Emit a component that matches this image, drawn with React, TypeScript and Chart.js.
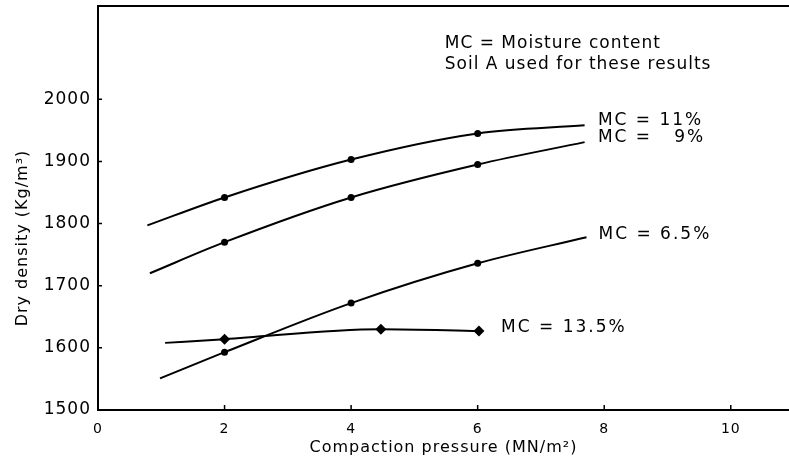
import React, { useEffect, useRef } from 'react';
import { Chart, registerables } from 'chart.js';

Chart.register(...registerables);

const FONT = "'DejaVu Sans', sans-serif";

// Axis ticks
const xTicks = [0, 2, 4, 6, 8, 10];
const yTicks = [1500, 1600, 1700, 1800, 1900, 2000];

// Curves (x = compaction pressure MN/m², y = dry density kg/m³)
const mc11X = [0.78, 2, 4, 6, 7.69];
const mc11Y = [1797, 1842, 1903, 1945, 1958];
const mc11Marked = [2, 4, 6];

const mc9X = [0.82, 2, 4, 6, 7.69];
const mc9Y = [1720, 1770, 1842, 1895, 1931];
const mc9Marked = [2, 4, 6];

const mc65X = [0.98, 2, 4, 6, 7.72];
const mc65Y = [1551, 1593, 1672, 1736, 1778];
const mc65Marked = [2, 4, 6];

const mc135X = [1.06, 2, 4.47, 6.02];
const mc135Y = [1608, 1614, 1630, 1627];
const mc135Marked = [2, 4.47, 6.02];

// Curve labels (anchored in data coordinates)
const seriesLabels = ['MC = 11%', 'MC =   9%', 'MC = 6.5%', 'MC = 13.5%'];
const labelX = [7.9, 7.9, 7.91, 6.37];
const labelY = [1966, 1939, 1782, 1632];

// Note
const noteLines = ['MC = Moisture content', 'Soil A used for these results'];
const noteX = 5.48;
const noteY = [2090, 2056];

const xTitle = 'Compaction pressure (MN/m²)';
const yTitle = 'Dry density (Kg/m³)';

function pts(xs: number[], ys: number[]) {
  return xs.map((x, i) => ({ x, y: ys[i] }));
}

function makeSet(xs: number[], ys: number[], marked: number[], style: string, r: number) {
  return {
    data: pts(xs, ys),
    borderColor: '#000',
    backgroundColor: '#000',
    borderWidth: 2,
    cubicInterpolationMode: 'monotone' as const,
    pointStyle: style,
    pointRadius: (c: any) => (marked.includes(xs[c.dataIndex]) ? r : 0),
    pointHoverRadius: (c: any) => (marked.includes(xs[c.dataIndex]) ? r : 0),
    pointBorderWidth: 0,
  };
}

const overlay = {
  id: 'overlay',
  beforeDraw(chart: any) {
    chart.ctx.letterSpacing = '1px';
  },
  afterDraw(chart: any) {
    const { ctx, chartArea, scales } = chart;
    const { left, right, top, bottom } = chartArea;
    const x = scales.x;
    const y = scales.y;
    ctx.save();
    ctx.strokeStyle = '#000';
    ctx.lineWidth = 2;
    ctx.beginPath();
    ctx.moveTo(left, top);
    ctx.lineTo(right, top);
    ctx.stroke();

    ctx.lineWidth = 1.5;
    ctx.beginPath();
    yTicks.forEach((v) => {
      const py = y.getPixelForValue(v);
      ctx.moveTo(left, py);
      ctx.lineTo(left + 4, py);
    });
    xTicks.forEach((v) => {
      const px = x.getPixelForValue(v);
      ctx.moveTo(px, bottom);
      ctx.lineTo(px, bottom - 5);
    });
    ctx.stroke();

    ctx.fillStyle = '#000';
    // y title
    ctx.save();
    ctx.letterSpacing = '1px';
    ctx.font = `16px ${FONT}`;
    ctx.translate(23, (top + bottom) / 2 + 30);
    ctx.rotate(-Math.PI / 2);
    ctx.textAlign = 'center';
    ctx.textBaseline = 'middle';
    ctx.fillText(yTitle, 0, 0);
    ctx.restore();

    // note
    ctx.letterSpacing = '1px';
    ctx.font = `17px ${FONT}`;
    ctx.textAlign = 'left';
    ctx.textBaseline = 'middle';
    noteLines.forEach((t, i) => {
      ctx.fillText(t, x.getPixelForValue(noteX), y.getPixelForValue(noteY[i]));
    });

    // curve labels
    ctx.letterSpacing = '2px';
    seriesLabels.forEach((t, i) => {
      ctx.fillText(t, x.getPixelForValue(labelX[i]), y.getPixelForValue(labelY[i]));
    });
    ctx.restore();
  },
};

export default function App() {
  const ref = useRef<HTMLCanvasElement>(null);
  useEffect(() => {
    if (!ref.current) return;
    Chart.defaults.color = '#000';
    const chart = new Chart(ref.current, {
      type: 'line',
      data: {
        datasets: [
          makeSet(mc11X, mc11Y, mc11Marked, 'circle', 3.5),
          makeSet(mc9X, mc9Y, mc9Marked, 'circle', 3.5),
          makeSet(mc65X, mc65Y, mc65Marked, 'circle', 3.5),
          makeSet(mc135X, mc135Y, mc135Marked, 'rectRot', 5.5),
        ] as any,
      },
      options: {
        responsive: false,
        animation: false,
        layout: { autoPadding: false, padding: { top: 6, right: 0, left: 0, bottom: 0 } },
        plugins: { legend: { display: false }, tooltip: { enabled: false } },
        scales: {
          x: {
            type: 'linear',
            min: 0,
            max: 10.92,
            afterBuildTicks: (s: any) => {
              s.ticks = xTicks.map((v) => ({ value: v }));
            },
            afterFit: (s: any) => {
              s.height = 57;
              s.paddingLeft = 0;
              s.paddingRight = 0;
            },
            ticks: {
              font: { family: FONT, size: 14 },
              color: '#000',
              padding: 11,
              maxRotation: 0,
              autoSkip: false,
              callback: (v: any) => String(v),
            },
            grid: { display: true, drawOnChartArea: false, drawTicks: false },
            border: { display: true, color: '#000', width: 2 },
            title: {
              display: true,
              text: xTitle,
              color: '#000',
              font: { family: FONT, size: 16 },
              padding: { top: 0, bottom: 10 },
            },
          },
          y: {
            type: 'linear',
            min: 1500,
            max: 2150,
            afterBuildTicks: (s: any) => {
              s.ticks = yTicks.map((v) => ({ value: v }));
            },
            afterFit: (s: any) => {
              s.width = 98;
              s.paddingTop = 0;
              s.paddingBottom = 0;
            },
            ticks: {
              font: { family: FONT, size: 17 },
              color: '#000',
              padding: 7,
              callback: (v: any) => String(v),
            },
            grid: { display: true, drawOnChartArea: false, drawTicks: false },
            border: { display: true, color: '#000', width: 2 },
          },
        },
      },
      plugins: [overlay],
    });
    return () => chart.destroy();
  }, []);
  return (
    <div style={{ position: 'absolute', left: 0, top: 0, width: 789, height: 467, background: '#fff' }}>
      <canvas ref={ref} width={789} height={467} />
    </div>
  );
}
